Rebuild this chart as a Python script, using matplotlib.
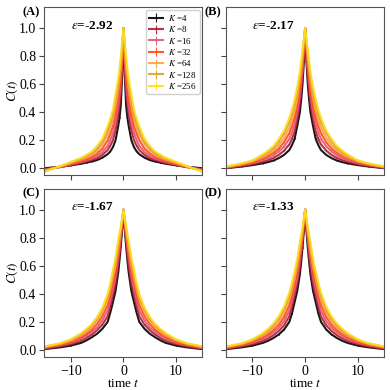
import numpy as np
import matplotlib
matplotlib.use('Agg')
import matplotlib.pyplot as plt

plt.rcParams['font.family'] = ['Liberation Serif', 'DejaVu Serif']
plt.rcParams['mathtext.fontset'] = 'stix'

# lag times (the curves are mirrored around t = 0)
lags = [0, 0.25, 0.5, 0.75, 1, 1.5, 2, 2.5, 3, 4, 5, 6, 7, 8, 10, 12, 15]
Ks = [4, 8, 16, 32, 64, 128, 256]
colors = ['black', '#b01c2a', '#e2537a', '#ff4a10', '#ffa040', '#d9a030', '#ffdf20']
eps = ['-2.92', '-2.17', '-1.67', '-1.33']
panels = ['(A)', '(B)', '(C)', '(D)']

# C(t), one row per K
C_A = [
    [1.0, 0.66, 0.45, 0.36, 0.30, 0.20, 0.15, 0.120, 0.10, 0.075, 0.058, 0.048, 0.040, 0.032, 0.020, 0.010, 0.000],
    [1.0, 0.72, 0.54, 0.45, 0.38, 0.27, 0.20, 0.160, 0.13, 0.095, 0.072, 0.058, 0.047, 0.038, 0.022, 0.008, -0.005],
    [1.0, 0.76, 0.60, 0.51, 0.44, 0.33, 0.25, 0.200, 0.16, 0.115, 0.087, 0.068, 0.055, 0.044, 0.026, 0.008, -0.010],
    [1.0, 0.80, 0.66, 0.57, 0.50, 0.39, 0.30, 0.245, 0.20, 0.140, 0.105, 0.080, 0.065, 0.052, 0.031, 0.010, -0.014],
    [1.0, 0.84, 0.71, 0.63, 0.56, 0.45, 0.35, 0.290, 0.24, 0.170, 0.125, 0.095, 0.077, 0.061, 0.036, 0.012, -0.018],
    [1.0, 0.87, 0.76, 0.67, 0.60, 0.49, 0.39, 0.325, 0.27, 0.190, 0.143, 0.108, 0.087, 0.068, 0.041, 0.014, -0.022],
    [1.0, 0.90, 0.80, 0.71, 0.64, 0.53, 0.42, 0.355, 0.30, 0.210, 0.160, 0.120, 0.096, 0.075, 0.045, 0.015, -0.025],
]
C_B = [
    [1.0, 0.76, 0.60, 0.49, 0.40, 0.30, 0.21, 0.165, 0.13, 0.095, 0.072, 0.055, 0.044, 0.035, 0.022, 0.012, 0.000],
    [1.0, 0.80, 0.66, 0.55, 0.46, 0.35, 0.26, 0.210, 0.17, 0.125, 0.095, 0.073, 0.058, 0.046, 0.028, 0.016, 0.002],
    [1.0, 0.83, 0.70, 0.60, 0.52, 0.40, 0.31, 0.255, 0.21, 0.155, 0.120, 0.092, 0.073, 0.058, 0.035, 0.020, 0.004],
    [1.0, 0.86, 0.74, 0.65, 0.57, 0.45, 0.36, 0.300, 0.25, 0.185, 0.140, 0.110, 0.088, 0.070, 0.042, 0.025, 0.006],
    [1.0, 0.89, 0.78, 0.69, 0.62, 0.50, 0.41, 0.345, 0.29, 0.215, 0.165, 0.127, 0.101, 0.080, 0.048, 0.029, 0.008],
    [1.0, 0.91, 0.82, 0.73, 0.66, 0.55, 0.46, 0.390, 0.33, 0.250, 0.190, 0.145, 0.116, 0.092, 0.053, 0.032, 0.010],
    [1.0, 0.92, 0.84, 0.76, 0.69, 0.58, 0.49, 0.420, 0.36, 0.270, 0.210, 0.160, 0.127, 0.100, 0.055, 0.035, 0.012],
]
C_C = [
    [1.0, 0.86, 0.74, 0.64, 0.55, 0.42, 0.34, 0.265, 0.20, 0.15, 0.115, 0.090, 0.068, 0.050, 0.030, 0.018, 0.005],
    [1.0, 0.88, 0.78, 0.68, 0.60, 0.47, 0.39, 0.310, 0.24, 0.18, 0.140, 0.110, 0.085, 0.065, 0.040, 0.025, 0.008],
    [1.0, 0.90, 0.81, 0.72, 0.65, 0.52, 0.44, 0.350, 0.28, 0.21, 0.160, 0.130, 0.102, 0.080, 0.050, 0.031, 0.012],
    [1.0, 0.91, 0.83, 0.75, 0.69, 0.56, 0.48, 0.390, 0.32, 0.24, 0.185, 0.145, 0.115, 0.092, 0.058, 0.036, 0.015],
    [1.0, 0.92, 0.85, 0.78, 0.72, 0.60, 0.52, 0.430, 0.36, 0.27, 0.210, 0.165, 0.132, 0.105, 0.066, 0.042, 0.019],
    [1.0, 0.93, 0.87, 0.81, 0.75, 0.63, 0.55, 0.455, 0.38, 0.29, 0.225, 0.177, 0.143, 0.114, 0.071, 0.045, 0.022],
    [1.0, 0.94, 0.88, 0.83, 0.78, 0.66, 0.57, 0.475, 0.40, 0.30, 0.235, 0.185, 0.150, 0.120, 0.075, 0.048, 0.024],
]
C_D = [
    [1.0, 0.85, 0.73, 0.63, 0.54, 0.42, 0.34, 0.26, 0.20, 0.145, 0.110, 0.085, 0.065, 0.050, 0.030, 0.018, 0.005],
    [1.0, 0.87, 0.77, 0.67, 0.59, 0.47, 0.39, 0.31, 0.24, 0.175, 0.135, 0.105, 0.082, 0.064, 0.040, 0.025, 0.008],
    [1.0, 0.89, 0.80, 0.71, 0.64, 0.51, 0.43, 0.35, 0.28, 0.205, 0.158, 0.125, 0.099, 0.078, 0.050, 0.031, 0.012],
    [1.0, 0.91, 0.82, 0.74, 0.68, 0.55, 0.47, 0.39, 0.32, 0.235, 0.180, 0.142, 0.113, 0.090, 0.058, 0.036, 0.015],
    [1.0, 0.92, 0.84, 0.77, 0.71, 0.59, 0.51, 0.43, 0.36, 0.265, 0.205, 0.162, 0.130, 0.103, 0.066, 0.042, 0.019],
    [1.0, 0.93, 0.86, 0.80, 0.74, 0.62, 0.54, 0.46, 0.39, 0.290, 0.225, 0.177, 0.142, 0.113, 0.071, 0.045, 0.022],
    [1.0, 0.94, 0.87, 0.82, 0.77, 0.65, 0.56, 0.48, 0.41, 0.310, 0.240, 0.190, 0.152, 0.120, 0.075, 0.047, 0.024],
]
# error bar sizes per K
err_AB = [0.002, 0.002, 0.003, 0.003, 0.004, 0.006, 0.009]
err_CD = [0.001, 0.001, 0.001, 0.002, 0.002, 0.002, 0.003]

data = [C_A, C_B, C_C, C_D]
errs = [err_AB, err_AB, err_CD, err_CD]

lag = np.array(lags)
t = np.concatenate([-lag[::-1], lag[1:]])

fig, axs = plt.subplots(2, 2, figsize=(3.9, 3.9), dpi=100, sharex=True, sharey=True)
fig.subplots_adjust(left=0.114, right=0.985, bottom=0.085, top=0.982, wspace=0.15, hspace=0.08)

for i, ax in enumerate(axs.flat):
    for k in range(len(Ks)):
        c = np.array(data[i][k])
        y = np.concatenate([c[::-1], c[1:]])
        ax.errorbar(t, y, yerr=errs[i][k], color=colors[k], lw=1.5, elinewidth=0.8,
                    alpha=0.9, label='$K$ =%d' % Ks[k])
    ax.text(0.165, 0.89, r'$\epsilon$=' + eps[i], transform=ax.transAxes,
            fontsize=9.5, fontweight='bold', va='center')
    ax.text(-0.14, 0.97, panels[i], transform=ax.transAxes, fontsize=9,
            fontweight='bold', va='center', ha='left')
    ax.tick_params(labelsize=10, length=3.5, pad=2.5, color='#444444')
    for s in ax.spines.values():
        s.set_color('#555555')

axs[0, 0].set_xlim(-15, 15)
axs[0, 0].set_ylim(-0.05, 1.15)
axs[0, 0].set_yticks([0.0, 0.2, 0.4, 0.6, 0.8, 1.0])
axs[0, 0].set_xticks([-10, 0, 10])
for ax in axs[:, 0]:
    ax.set_ylabel('$C(t)$', fontsize=9.5)
    ax.yaxis.set_label_coords(-0.155, 0.5)
axs[1, 0].set_xlabel('time $t$', fontsize=9.5, labelpad=0)
axs[1, 1].set_xlabel('time $t$', fontsize=9.5, labelpad=0)
axs[0, 0].legend(loc='upper right', fontsize=6.5, handlelength=1.6, labelspacing=0.15,
                 borderpad=0.35, borderaxespad=0.3, handletextpad=0.5, framealpha=0.9)

plt.savefig('out.png', dpi=100)
